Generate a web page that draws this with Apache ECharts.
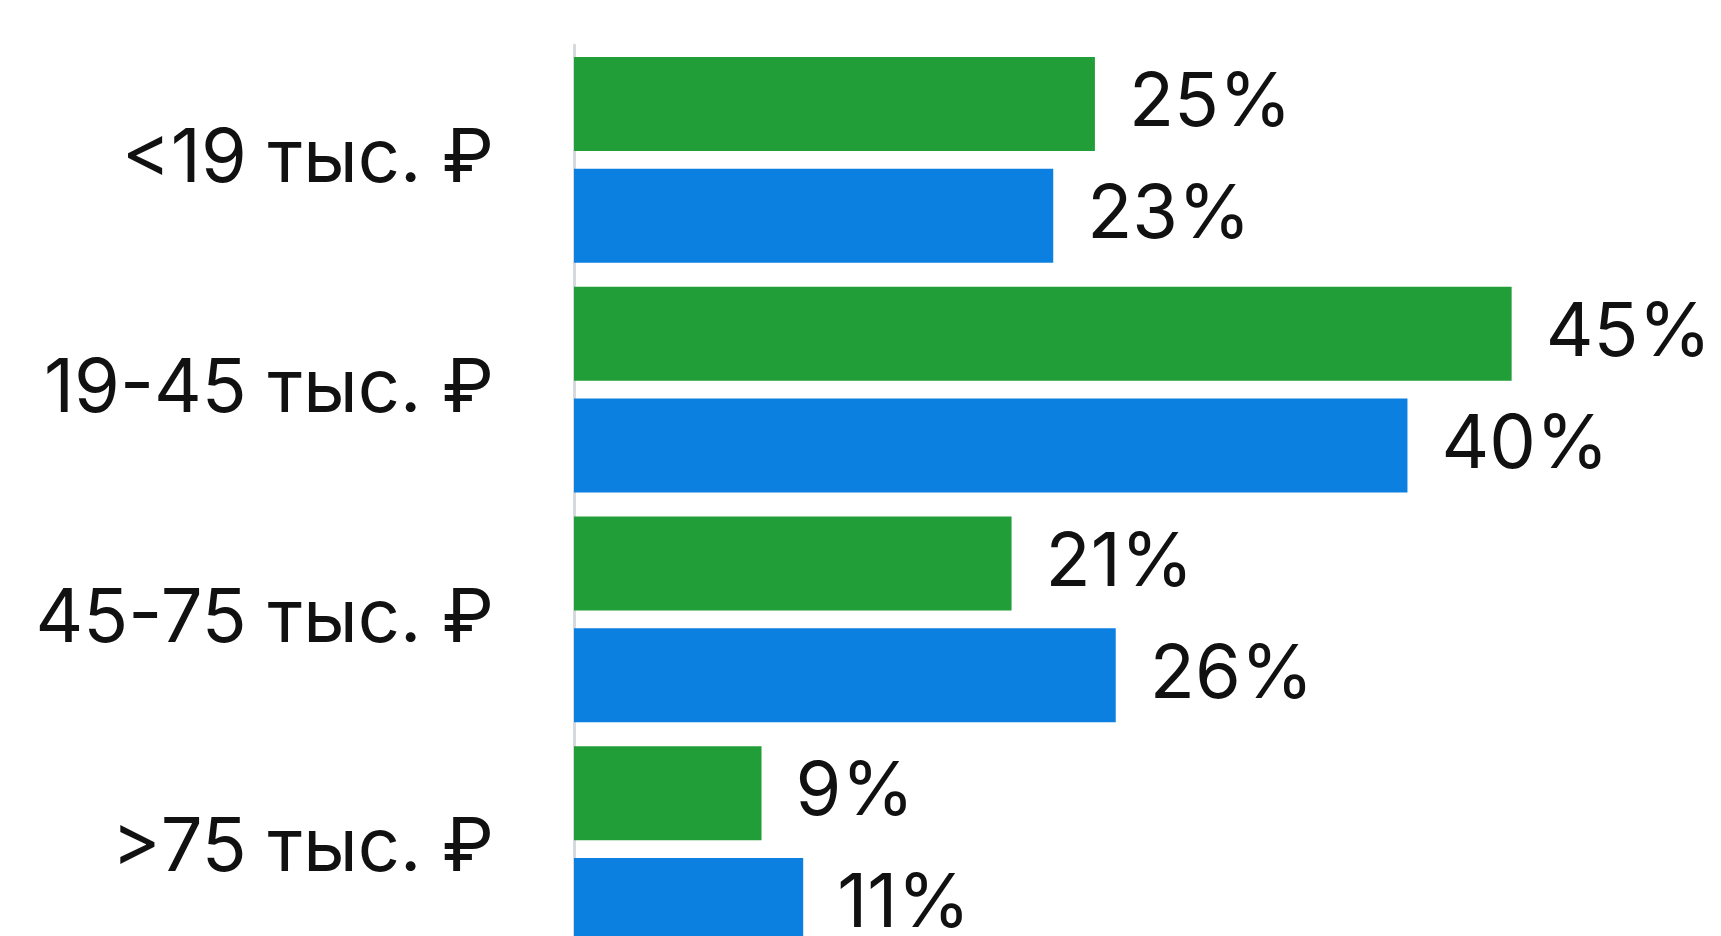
<!DOCTYPE html>
<html>
<head>
<meta charset="utf-8">
<style>
  html, body { margin: 0; padding: 0; background: #ffffff; }
  #chart { width: 1721px; height: 936px; }
</style>
<script src="https://cdn.jsdelivr.net/npm/echarts@6/dist/echarts.min.js"></script>
</head>
<body>
<div id="chart"></div>
<script>
// Income brackets (monthly, thousand rubles)
const categories = ['<19 тыс. ₽', '19-45 тыс. ₽', '45-75 тыс. ₽', '>75 тыс. ₽'];
// Share of respondents, %
const greenValues = [25, 45, 21, 9];
const blueValues = [23, 40, 26, 11];

const GREEN = '#219e38';
const BLUE = '#0c80e0';
const FONT = 'Inter, "Noto Sans", sans-serif';

const chart = echarts.init(document.getElementById('chart'), null, { renderer: 'canvas' });

const valueLabel = {
  show: true,
  position: 'right',
  distance: 34,
  formatter: '{c}%',
  color: '#111111',
  fontFamily: FONT,
  fontSize: 74,
  fontWeight: 400
};

chart.setOption({
  backgroundColor: '#ffffff',
  animation: false,
  // the last bar runs past the bottom edge, so the plot area extends below it
  grid: {
    left: 574, top: 45, width: 1146, height: 919,
    containLabel: false,
    outerBoundsMode: 'none'
  },
  xAxis: {
    type: 'value',
    min: 0,
    max: 55,
    show: false
  },
  yAxis: {
    type: 'category',
    data: categories,
    inverse: true,
    axisLine: { show: true, lineStyle: { color: '#d6dade', width: 3 } },
    axisTick: { show: false },
    axisLabel: {
      margin: 80,
      color: '#111111',
      fontFamily: FONT,
      fontSize: 74,
      fontWeight: 400,
      align: 'right',
      verticalAlign: 'middle',
      padding: [0, 0, 8, 0]
    },
    splitLine: { show: false }
  },
  series: [
    {
      type: 'bar',
      data: greenValues,
      barWidth: 94,
      barGap: '19%',
      itemStyle: { color: GREEN },
      label: valueLabel
    },
    {
      type: 'bar',
      data: blueValues,
      barWidth: 94,
      itemStyle: { color: BLUE },
      label: valueLabel
    }
  ]
});
</script>
</body>
</html>
